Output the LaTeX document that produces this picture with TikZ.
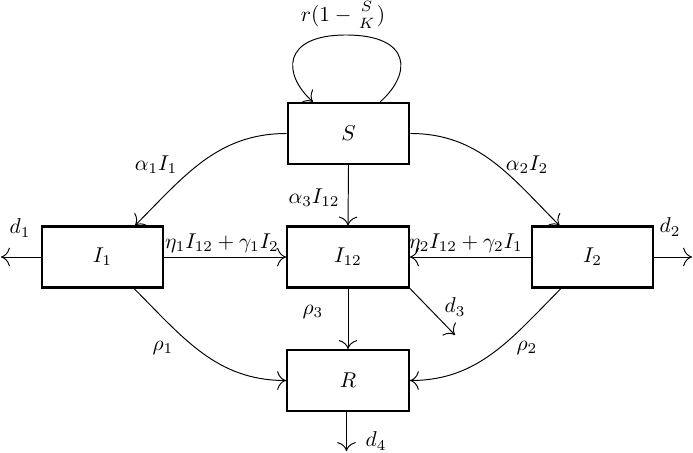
\documentclass[tikz,border=0pt]{standalone}
\usetikzlibrary{calc,arrows.meta}
\begin{document}
\begin{tikzpicture}[x=0.01642cm,y=-0.01642cm,
  box/.style={draw,line width=1pt,minimum width=2cm,minimum height=1cm,inner sep=0pt},
  flow/.style={-{To[scale=1.6]},line width=0.45pt}]
\useasboundingbox (0,0) rectangle (693,452);
\node[box] (S) at (348.5,133.5) {$S$};
\node[box] (I1) at (102.5,257) {$I_1$};
\node[box] (I12) at (348,257) {$I_{12}$};
\node[box] (I2) at (592.5,257) {$I_2$};
\node[box] (R) at (348,380.5) {$R$};
\coordinate (looptop) at (346,35);
\coordinate (d1) at (1,257);
\coordinate (d2) at (692,257);
\coordinate (d3) at (455,335);
\coordinate (d4) at (346.5,451);
% self loop
\draw[flow] ($(S.north)+(31.5,0)$) .. controls +(32,-28) and +(66,0) .. (looptop)
  .. controls +(-64,0) and +(-31,-28) .. ($(S.north)+(-35.5,0)$);
\node at (343,15) {$r(1-{S\atop K})$};
% S to infected
\draw[flow] (S.west) to[out=180,in=45] ($(I1.north)+(32.5,0)$);
\draw[flow] (S.east) to[out=0,in=135] ($(I2.north)+(-33,0)$);
\draw[flow] (S.south) -- (I12.north);
\node at (156,165) {$\alpha_1 I_1$};
\node at (527,165) {$\alpha_2 I_2$};
\node at (314,198) {$\alpha_3 I_{12}$};
% coinfection
\draw[flow] (I1.east) -- (I12.west);
\draw[flow] (I2.west) -- (I12.east);
\node at (222,243) {$\eta_1 I_{12}+\gamma_1 I_2$};
\node at (466,243) {$\eta_2 I_{12}+\gamma_2 I_1$};
% deaths
\draw[flow] (I1.west) -- (d1);
\draw[flow] (I2.east) -- (d2);
\draw[flow] (I12.south east) -- (d3);
\draw[flow] ($(R.south)+(-1.5,0)$) -- (d4);
\node at (20,228) {$d_1$};
\node at (670,227) {$d_2$};
\node at (455,307) {$d_3$};
\node at (376,441) {$d_4$};
% recovery
\draw[flow] (I12.south) -- (R.north);
\draw[flow] ($(I1.south)+(31.5,0)$) to[out=-45,in=180] (R.west);
\draw[flow] ($(I2.south)+(-31.5,0)$) to[out=-135,in=0] (R.east);
\node at (313,312) {$\rho_3$};
\node at (163,348) {$\rho_1$};
\node at (527,348) {$\rho_2$};
\end{tikzpicture}
\end{document}
